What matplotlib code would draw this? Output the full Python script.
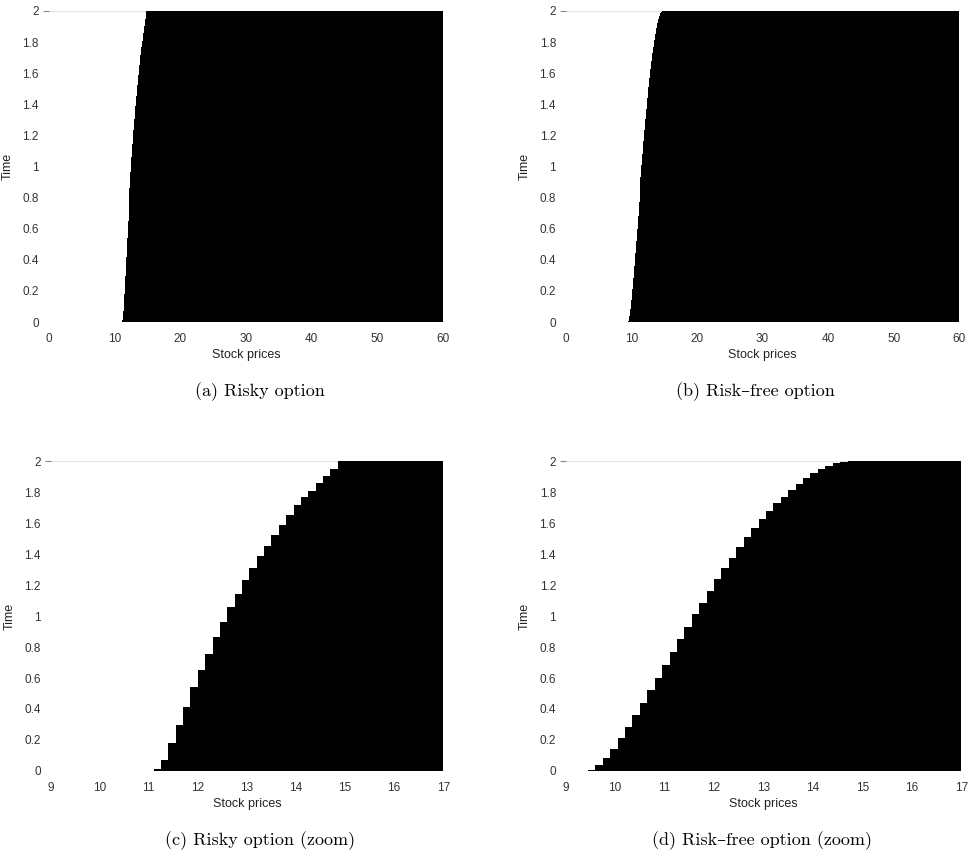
import numpy as np
import matplotlib.pyplot as plt

# left edge of each price column of the exercise region and the time
# up to which that column is in the stopping region (grid step 0.15)
risky_prices = [11.10, 11.25, 11.40, 11.55, 11.70, 11.85, 12.00, 12.15, 12.30,
                12.45, 12.60, 12.75, 12.90, 13.05, 13.20, 13.35, 13.50, 13.65,
                13.80, 13.95, 14.10, 14.25, 14.40, 14.55, 14.70, 14.85, 60.0]
risky_times = [0.010, 0.071, 0.178, 0.297, 0.415, 0.540, 0.652, 0.755, 0.862,
               0.963, 1.060, 1.142, 1.232, 1.308, 1.387, 1.452, 1.523, 1.587,
               1.652, 1.716, 1.770, 1.809, 1.856, 1.903, 1.946, 2.000, 2.000]

riskfree_prices = [9.45, 9.60, 9.75, 9.90, 10.05, 10.20, 10.35, 10.50, 10.65,
                   10.80, 10.95, 11.10, 11.25, 11.40, 11.55, 11.70, 11.85,
                   12.00, 12.15, 12.30, 12.45, 12.60, 12.75, 12.90, 13.05,
                   13.20, 13.35, 13.50, 13.65, 13.80, 13.95, 14.10, 14.25,
                   14.40, 14.55, 14.70, 60.0]
riskfree_times = [0.008, 0.039, 0.082, 0.140, 0.211, 0.282, 0.361, 0.441, 0.523,
                  0.598, 0.684, 0.770, 0.849, 0.931, 1.011, 1.082, 1.163,
                  1.237, 1.308, 1.372, 1.443, 1.508, 1.566, 1.624, 1.680,
                  1.731, 1.770, 1.813, 1.852, 1.888, 1.920, 1.946, 1.968,
                  1.985, 1.994, 2.000, 2.000]

y_ticks = [0, 0.2, 0.4, 0.6, 0.8, 1, 1.2, 1.4, 1.6, 1.8, 2]
y_labels = ["0", "0.2", "0.4", "0.6", "0.8", "1", "1.2", "1.4", "1.6", "1.8", "2"]
full_xticks = [0, 10, 20, 30, 40, 50, 60]
zoom_xticks = [9, 10, 11, 12, 13, 14, 15, 16, 17]

captions = ["(a) Risky option", "(b) Risk\u2013free option",
            "(c) Risky option (zoom)", "(d) Risk\u2013free option (zoom)"]

tick_color = "#333333"
sans = "Liberation Sans"

fig = plt.figure(figsize=(9.72, 8.58), dpi=100)

# axes rectangles in figure fractions
boxes = [
    [0.050, 0.6247, 0.406, 0.3625],
    [0.582, 0.6247, 0.405, 0.3625],
    [0.052, 0.1014, 0.404, 0.3613],
    [0.582, 0.1014, 0.407, 0.3613],
]
panels = [
    (risky_prices, risky_times, (0, 60), full_xticks),
    (riskfree_prices, riskfree_times, (0, 60), full_xticks),
    (risky_prices, risky_times, (9, 17), zoom_xticks),
    (riskfree_prices, riskfree_times, (9, 17), zoom_xticks),
]
caption_pos = [(0.2675, 0.543), (0.777, 0.543), (0.2675, 0.020), (0.784, 0.020)]

for box, (px, pt, xlim, xt), cap, cpos in zip(boxes, panels, captions, caption_pos):
    ax = fig.add_axes(box)
    ax.fill_between(px, 0, pt, step="post", color="black", linewidth=0)
    ax.set_xlim(*xlim)
    ax.set_ylim(0, 2)
    for s in ax.spines.values():
        s.set_visible(False)
    ax.axhline(2, color="#e4e4e4", linewidth=1.0, zorder=0)

    ax.set_xticks(xt)
    ax.set_xticklabels([str(v) for v in xt])
    ax.set_yticks(y_ticks)
    ax.set_yticklabels(y_labels)
    ax.tick_params(axis="x", length=0, pad=8, labelsize=8.5,
                   labelcolor=tick_color)
    ax.tick_params(axis="y", length=4, width=0.8, color="#888888",
                   direction="out", pad=3, labelsize=8.5,
                   labelcolor=tick_color)
    # only the top y tick mark is left showing
    for tk in ax.yaxis.get_major_ticks()[:-1]:
        tk.tick1line.set_visible(False)
    for lab in ax.get_xticklabels() + ax.get_yticklabels():
        lab.set_family(sans)

    ax.set_xlabel("Stock prices", fontsize=9, family=sans, color="#222222",
                  labelpad=3)
    ax.set_ylabel("Time", fontsize=9, family=sans, color="#222222",
                  labelpad=6)

    fig.text(cpos[0], cpos[1], cap, ha="center", va="center", fontsize=13,
             family=["cmr10", "DejaVu Serif"])

fig.savefig("out.png", dpi=100)
